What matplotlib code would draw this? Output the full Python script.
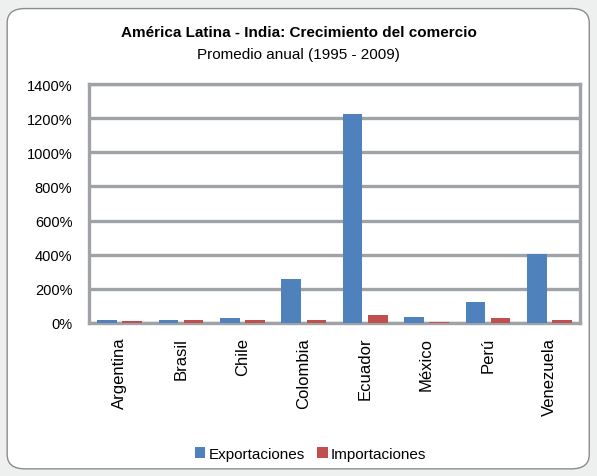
import matplotlib.pyplot as plt
import numpy as np
from matplotlib.patches import FancyBboxPatch

plt.rcParams['font.family'] = ['Liberation Sans', 'DejaVu Sans']

paises = ['Argentina', 'Brasil', 'Chile', 'Colombia', 'Ecuador', 'México', 'Perú', 'Venezuela']
exportaciones = [20, 20, 30, 260, 1222, 37, 125, 405]
importaciones = [10, 20, 20, 20, 47, 8, 28, 20]
yticks = [0, 200, 400, 600, 800, 1000, 1200, 1400]

fig = plt.figure(figsize=(5.97, 4.77), dpi=100)
fig.patch.set_facecolor('#eef0ef')

# marco redondeado
marco = FancyBboxPatch((0.012, 0.015), 0.975, 0.965, boxstyle='round,pad=0,rounding_size=0.03',
                       transform=fig.transFigure, facecolor='white', edgecolor='#8c8c8c',
                       linewidth=1.0, zorder=-5)
fig.patches.append(marco)

ax = fig.add_axes([0.149, 0.3208, 0.8225, 0.501])
ax.set_zorder(2)
x = np.arange(len(paises))
w = 0.32
ax.bar(x - 0.205, exportaciones, w, color='#4f81bd', label='Exportaciones', zorder=3)
ax.bar(x + 0.205, importaciones, w, color='#c0504d', label='Importaciones', zorder=3)

ax.set_xlim(-0.5, len(paises) - 0.5)
ax.set_ylim(0, 1400)
ax.set_yticks(yticks)
ax.set_yticklabels([f'{v}%' for v in yticks], fontsize=10.5)
ax.set_xticks(x)
ax.set_xticklabels(paises, rotation=90, fontsize=12)
ax.tick_params(axis='x', length=0, pad=10)
ax.tick_params(axis='y', length=0, pad=12)
ax.grid(axis='y', color='#a0a3a6', linewidth=2.4, zorder=1)
ax.set_axisbelow(True)
for s in ax.spines.values():
    s.set_color('#a0a3a6')
    s.set_linewidth(2.4)

fig.text(0.5, 0.931, 'América Latina - India: Crecimiento del comercio', ha='center', va='center',
         fontsize=11, fontweight='bold')
fig.text(0.5, 0.884, 'Promedio anual (1995 - 2009)', ha='center', va='center', fontsize=11)

fig.legend(loc='center', bbox_to_anchor=(0.52, 0.046), ncol=2, frameon=False, fontsize=11,
           handlelength=0.7, handleheight=0.7, handletextpad=0.2, columnspacing=0.8)

plt.savefig('out.png', dpi=100, facecolor=fig.get_facecolor())
